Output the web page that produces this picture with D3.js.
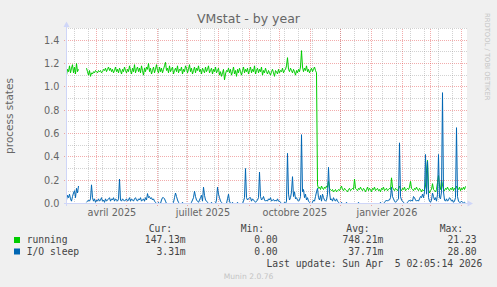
<!DOCTYPE html>
<html lang="fr">
<head>
<meta charset="utf-8">
<title>VMstat - by year</title>
<script src="https://cdn.jsdelivr.net/npm/d3@7"></script>
<style>
  body { margin: 0; background: #f0f0f0; }
  svg { display: block; }
  text { font-family: "DejaVu Sans", sans-serif; }
  .mono { font-family: "DejaVu Sans Mono", monospace; font-size: 9.7px; fill: #444; white-space: pre; }
</style>
</head>
<body>
<script>
// ---- data (one value per day, starting 1 Mar 2025) ----
var seriesNames = ["running", "I/O sleep"];
var seriesColors = ["#00cc00", "#0066b3"];

var running = [
  1.10,1.15,1.13,1.18,1.12,1.16,1.19,1.12,1.17,1.11,1.20,1.13,1.15,
  null,null,null,null,null,null,null,
  1.16,1.13,1.10,1.14,1.09,1.12,1.11,1.13,1.12,1.14,1.13,1.12,1.14,1.13,1.14,1.12,1.13,1.15,1.14,1.16,1.13,
  1.15,1.17,1.14,1.16,1.13,1.15,1.12,1.14,1.17,1.13,1.15,1.12,1.16,1.14,1.11,1.15,1.13,1.17,1.14,1.12,
  1.15,1.13,1.18,1.14,1.11,1.16,1.13,1.19,1.12,1.15,1.17,1.13,1.16,1.12,1.18,1.14,1.10,1.16,1.13,1.17,
  1.15,1.20,1.13,1.16,1.11,1.14,1.17,1.12,1.15,1.19,1.14,1.12,1.17,1.13,1.16,1.12,1.15,1.18,1.21,1.14,
  1.16,1.12,1.18,1.13,1.15,1.17,1.11,1.14,1.16,1.13,1.18,1.12,1.15,1.14,1.17,1.11,1.15,1.13,1.18,1.16,
  1.12,1.15,1.19,1.13,1.16,1.11,1.14,1.17,1.12,1.16,1.14,1.18,1.13,1.15,1.11,1.16,1.14,1.12,1.17,1.13,
  1.15,1.18,1.12,1.14,1.16,1.11,1.15,1.13,1.17,1.12,1.14,1.16,1.10,1.13,1.09,1.12,1.15,1.06,1.11,1.14,
  1.13,1.16,1.12,1.15,1.10,1.13,1.17,1.11,1.14,1.09,1.15,1.12,1.16,1.13,1.10,1.14,1.17,1.12,1.15,1.13,
  1.16,1.11,1.14,1.17,1.12,1.15,1.13,1.18,1.11,1.14,1.16,1.12,1.15,1.13,1.17,1.10,1.14,1.12,1.16,1.13,
  1.11,1.14,1.12,1.10,1.13,1.15,1.12,1.09,1.14,1.13,1.11,1.15,1.12,1.14,1.13,1.16,1.12,1.14,1.15,1.18,
  1.25,1.15,1.13,1.16,1.14,1.12,1.15,1.13,1.10,1.14,1.12,1.15,1.13,1.17,1.31,
  1.17,1.13,1.16,1.14,1.18,1.13,1.15,1.12,1.14,1.16,1.13,1.15,1.17,1.14,1.12,
  0.16,0.13,0.14,0.12,0.15,0.13,0.12,0.14,0.13,0.15,0.14,0.19,0.13,0.12,0.11,0.12,0.10,0.11,0.12,0.10,
  0.11,0.12,0.11,0.13,0.15,0.12,0.11,0.13,0.12,0.11,0.10,0.12,0.13,0.11,0.12,0.13,0.12,0.21,0.13,0.12,
  0.11,0.13,0.12,0.14,0.12,0.11,0.13,0.12,0.10,0.12,0.14,0.11,0.13,0.12,0.10,0.13,0.12,0.14,0.11,0.12,
  0.13,0.11,0.12,0.10,0.13,0.12,0.14,0.11,0.12,0.13,0.11,0.12,0.13,0.12,0.22,0.14,0.12,0.11,0.13,0.12,
  0.11,0.13,0.15,0.12,0.11,0.13,0.12,0.14,0.11,0.12,0.13,0.12,0.14,0.19,0.13,0.12,0.11,0.13,0.12,0.14,
  0.12,0.11,0.13,0.12,0.10,0.12,0.11,0.12,0.15,0.28,0.37,0.12,0.09,0.11,0.12,0.17,0.12,0.11,0.10,0.12,
  0.18,0.24,0.15,0.12,0.20,0.16,0.12,0.11,0.13,0.12,0.14,0.12,0.11,0.13,0.12,0.14,0.11,0.13,0.12,0.15,
  0.13,0.12,0.14,0.11,0.13,0.12,0.14,0.12,0.147
];

var ioSleep = [
  0.03,0.07,0.05,0.08,0.04,0.02,0.06,0.09,0.11,0.05,0.13,0.09,0.15,
  null,null,null,null,null,null,null,
  0.01,0.02,0.03,0.02,0.04,0.16,0.05,0.02,0.04,0.01,0.03,0.02,0.04,0.02,0.03,0.05,0.02,0.03,0.01,0.04,0.02,
  0.03,0.04,0.05,0.02,0.04,0.03,0.05,0.02,0.04,0.03,0.02,0.04,0.21,0.03,0.02,0.04,0.03,0.02,0.03,0.04,
  0.02,0.03,0.05,0.02,0.04,0.03,0.02,0.04,0.05,0.03,0.02,0.04,0.03,0.05,0.02,0.03,0.04,0.02,0.05,0.03,
  0.085,0.05,0.06,0.04,0.05,0.03,0.04,0.02,0.01,0,0,0.01,0,0,0.03,0.05,0.05,0.04,0.02,0,
  0,0,0,0,0,0,0.01,0.05,0.09,0.06,0.03,0.01,0,0,0,0.01,0,0,0,0,
  0,0,0,0,0.01,0.03,0.05,0.105,0.06,0.03,0.02,0.01,0.03,0.05,0.07,0.02,0.14,0.07,0.03,0.02,
  0.01,0,0,0,0.01,0,0,0,0,0.03,0.14,0.08,0.05,0.02,0.01,0,0,0,0,0,
  0.04,0.08,0.02,0,0,0.01,0,0,0,0,0.01,0,0,0,0,0,0.02,0.05,0.30,0.05,
  0.03,0.04,0.05,0.05,0.02,0.04,0.03,0.02,0.01,0.02,0.03,0.05,0.27,0.06,0.03,0.04,0.06,0.03,0.02,0.03,
  0.02,0.04,0.03,0.05,0.02,0.03,0.035,0.02,0.03,0.02,0.04,0.02,0.02,0.01,0,0,0,0.01,0,0.02,
  0.43,0.08,0.03,0.05,0.10,0.23,0.06,0.10,0.04,0.05,0.03,0.02,0.03,0.06,0.59,0.10,0.12,0.05,0.08,0.03,
  0.05,0.02,0.01,0,0,0.01,0.03,0.02,0.06,0.10,0.13,0.05,0.03,0.07,0.02,0.08,0.05,0.03,0.02,0.03,
  0.08,0.31,0.10,0.03,0.04,0.02,0.05,0.03,0.02,0.04,0.02,0.01,0,0,0.01,0,0,0,0,0.01,
  0,0,0,0,0,0,0,0,0,0,0,0.01,0,0,0,0,0,0,0,0,
  0,0,0,0,0,0,0,0,0,0,0,0,0,0.01,0,0,0,0.01,0.02,0.03,
  0.02,0.03,0.03,0.05,0.14,0.06,0.04,0.02,0.01,0.02,0.03,0.04,0.52,0.06,0.03,0.02,0.01,0,0,0,
  0.01,0.02,0.03,0.02,0.03,0.02,0.06,0.05,0.03,0.02,0.03,0.02,0.04,0.06,0.05,0.08,0.05,0.10,0.42,0.08,
  0.36,0.05,0.02,0.01,0.03,0.09,0.06,0.03,0.05,0.02,0.08,0.42,0.05,0.04,0.10,0.95,0.10,0.03,0.02,0.04,
  0.02,0.03,0.05,0.04,0.02,0.03,0.01,0.02,0.05,0.65,0.06,0.02,0.01,0.01,0.02,0.01,0.005,0.01,0.0033
];

var yTicks = [0, 0.2, 0.4, 0.6, 0.8, 1.0, 1.2, 1.4];
var yMinorTicks = [0.1, 0.3, 0.5, 0.7, 0.9, 1.1, 1.3, 1.5];
var xLabelMonths = ["2025-04-01", "2025-07-01", "2025-10-01", "2026-01-01"];
var xLabels = ["avril 2025", "juillet 2025", "octobre 2025", "janvier 2026"];
var statHeaders = ["Cur:", "Min:", "Avg:", "Max:"];
var statValues = [
  ["147.13m", "0.00", "748.21m", "21.23"],
  ["3.31m", "0.00", "37.71m", "28.80"]
];
var lastUpdate = "Last update: Sun Apr  5 02:05:14 2026";

// ---- layout ----
var W = 497, H = 287;
var plot = {left: 66, right: 466, top: 28.5, bottom: 203.5};
var start = new Date(Date.UTC(2025, 2, 1, 2, 5, 14));
var end = new Date(Date.UTC(2026, 3, 5, 2, 5, 14));
var fontCol = "#666";
var axisCol = "#cfd6f8";

var svg = d3.select("body").append("svg")
  .attr("width", W).attr("height", H)
  .style("background", "#f0f0f0");

var x = d3.scaleUtc().domain([start, end]).range([plot.left, plot.right]);
var y = d3.scaleLinear().domain([0, 1.5]).range([plot.bottom, plot.top]);
function crisp(v) { return Math.round(v - 0.5) + 0.5; }

// canvas
svg.append("rect")
  .attr("x", plot.left).attr("y", plot.top - 0.5)
  .attr("width", plot.right - plot.left + 1).attr("height", plot.bottom - plot.top + 0.5)
  .attr("fill", "#fff");

var grid = svg.append("g").attr("stroke-dasharray", "1,1").attr("shape-rendering", "crispEdges");

// horizontal grid
grid.selectAll(".hmin").data(yMinorTicks).enter().append("line")
  .attr("x1", plot.left).attr("x2", plot.right + 1)
  .attr("y1", function(d) { return crisp(y(d)); })
  .attr("y2", function(d) { return crisp(y(d)); })
  .attr("stroke", "rgba(143,143,143,0.4)");
grid.selectAll(".hmaj").data(yTicks.slice(1)).enter().append("line")
  .attr("x1", plot.left - 2).attr("x2", plot.right + 1)
  .attr("y1", function(d) { return crisp(y(d)); })
  .attr("y2", function(d) { return crisp(y(d)); })
  .attr("stroke", "rgba(222,48,48,0.4)");

// vertical grid: every other monday (minor), month starts (major)
var weeks = d3.utcMonday.range(new Date(Date.UTC(2025, 2, 10)), end, 2);
var months = d3.utcMonth.range(start, end);
grid.selectAll(".vmin").data(weeks).enter().append("line")
  .attr("x1", function(d) { return crisp(x(d)); })
  .attr("x2", function(d) { return crisp(x(d)); })
  .attr("y1", plot.top).attr("y2", plot.bottom)
  .attr("stroke", "rgba(143,143,143,0.4)");
grid.selectAll(".vmaj").data(months).enter().append("line")
  .attr("x1", function(d) { return crisp(x(d)); })
  .attr("x2", function(d) { return crisp(x(d)); })
  .attr("y1", plot.top).attr("y2", plot.bottom + 2)
  .attr("stroke", "rgba(222,48,48,0.4)");

// y tick labels
svg.selectAll(".ylab").data(yTicks).enter().append("text")
  .attr("x", 59.5)
  .attr("y", function(d) { return crisp(y(d)) + 3.5; })
  .attr("text-anchor", "end")
  .attr("font-size", "9.7px")
  .attr("fill", fontCol)
  .text(d3.format(".1f"));

// x labels, centred mid-month
svg.selectAll(".xlab").data(xLabelMonths).enter().append("text")
  .attr("x", function(d) { return x(d3.utcDay.offset(new Date(d + "T00:00:00Z"), 15)); })
  .attr("y", 216)
  .attr("text-anchor", "middle")
  .attr("font-size", "9.7px")
  .attr("fill", fontCol)
  .text(function(d, i) { return xLabels[i]; });

// series
var dayX = function(d, i) { return x(d3.utcHour.offset(start, i * 24 + 12)); };
var line = d3.line()
  .defined(function(d) { return d != null; })
  .x(dayX)
  .y(function(d) { return y(d); });

[running, ioSleep].forEach(function(s, k) {
  svg.append("path")
    .datum(s)
    .attr("d", line)
    .attr("fill", "none")
    .attr("stroke", seriesColors[k])
    .attr("stroke-width", 1)
    .attr("stroke-linejoin", "round");
});

// axes
var ax = svg.append("g").attr("shape-rendering", "crispEdges");
ax.append("line")
  .attr("x1", plot.left - 2).attr("x2", plot.right + 2)
  .attr("y1", plot.bottom).attr("y2", plot.bottom)
  .attr("stroke", axisCol);
ax.append("line")
  .attr("x1", plot.left + 0.5).attr("x2", plot.left + 0.5)
  .attr("y1", plot.bottom + 2).attr("y2", plot.top - 3)
  .attr("stroke", axisCol);
svg.append("path")
  .attr("d", "M" + (plot.right + 1.5) + "," + (plot.bottom - 3) + "L" + (plot.right + 7) + "," + plot.bottom +
             "L" + (plot.right + 1.5) + "," + (plot.bottom + 3) + "Z")
  .attr("fill", axisCol);
svg.append("path")
  .attr("d", "M" + (plot.left - 2.5) + "," + (plot.top - 1.5) + "L" + (plot.left + 0.5) + "," + (plot.top - 7) +
             "L" + (plot.left + 3.5) + "," + (plot.top - 1.5) + "Z")
  .attr("fill", axisCol);

// title
svg.append("text")
  .attr("x", W / 2).attr("y", 23)
  .attr("text-anchor", "middle")
  .attr("font-size", "12.5px")
  .attr("fill", fontCol)
  .text("VMstat - by year");

// vertical unit label
svg.append("text")
  .attr("transform", "translate(13," + ((plot.top + plot.bottom) / 2) + ") rotate(-90)")
  .attr("text-anchor", "middle")
  .attr("font-size", "10.5px")
  .attr("fill", fontCol)
  .text("process states");

// rrdtool watermark on the right
svg.append("text")
  .attr("transform", "translate(484.5,13) rotate(90)")
  .attr("font-size", "6.8px")
  .attr("fill", "#c4c4c4")
  .text("RRDTOOL / TOBI OETIKER");

// legend
var colRight = [185.7, 277.7, 383.3, 476.7];
var rowY = [231.5, 243, 254.5];
var lg = svg.append("g");
lg.selectAll(".hdr").data(statHeaders).enter().append("text")
  .attr("class", "mono")
  .attr("x", function(d, i) { return colRight[i] - 13.6; })
  .attr("y", rowY[0])
  .attr("text-anchor", "end")
  .text(function(d) { return d; });

seriesNames.forEach(function(name, k) {
  lg.append("rect")
    .attr("x", 14).attr("y", rowY[k + 1] - 6)
    .attr("width", 6).attr("height", 6)
    .attr("fill", seriesColors[k]);
  lg.append("text").attr("class", "mono")
    .attr("x", 26.7).attr("y", rowY[k + 1])
    .text(name);
  lg.selectAll(".v" + k).data(statValues[k]).enter().append("text")
    .attr("class", "mono")
    .attr("x", function(d, i) { return colRight[i]; })
    .attr("y", rowY[k + 1])
    .attr("text-anchor", "end")
    .text(function(d) { return d; });
});

lg.append("text").attr("class", "mono")
  .attr("x", 482.3).attr("y", 266.5)
  .attr("text-anchor", "end")
  .text(lastUpdate);

svg.append("text")
  .attr("x", W / 2).attr("y", 279)
  .attr("text-anchor", "middle")
  .attr("font-size", "7.6px")
  .attr("fill", "#c4c4c4")
  .text("Munin 2.0.76");
</script>
</body>
</html>
